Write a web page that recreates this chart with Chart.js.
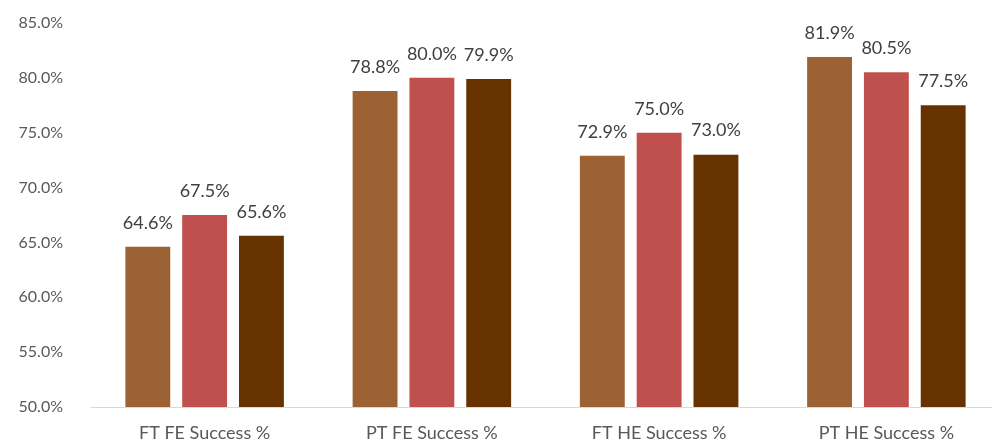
<!DOCTYPE html>
<html>
<head>
<meta charset="utf-8">
<script src="https://cdn.jsdelivr.net/npm/chart.js@4.4.1/dist/chart.umd.min.js"></script>
<style>
    html, body { margin: 0; padding: 0; background: #fff; overflow: hidden; }
    #wrap { width: 1000px; height: 446px; position: relative; }
</style>
</head>
<body>
<div id="wrap"><canvas id="barChart"></canvas></div>
<script>
// Categorias e valores (%)
const categorias = ['FT FE Success %', 'PT FE Success %', 'FT HE Success %', 'PT HE Success %'];
const serie1 = [64.6, 78.8, 72.9, 81.9];
const serie2 = [67.5, 80.0, 75.0, 80.5];
const serie3 = [65.6, 79.9, 73.0, 77.5];
const coresSeries = ['#9c6233', '#c0504d', '#663300'];

const fonte = "Lato, 'Open Sans', sans-serif";

// Plugin simples para escrever o valor acima de cada barra
const rotulosValores = {
    id: 'rotulosValores',
    afterDatasetsDraw(chart) {
        const ctx = chart.ctx;
        ctx.save();
        ctx.font = '18px ' + fonte;
        ctx.fillStyle = '#404040';
        ctx.textAlign = 'center';
        ctx.textBaseline = 'bottom';
        chart.data.datasets.forEach((ds, i) => {
            chart.getDatasetMeta(i).data.forEach((bar, j) => {
                ctx.fillText(ds.data[j].toFixed(1) + '%', bar.x, bar.y - 15);
            });
        });
        ctx.restore();
    }
};

const ctx = document.getElementById('barChart').getContext('2d');

new Chart(ctx, {
    type: 'bar',
    data: {
        labels: categorias,
        datasets: [serie1, serie2, serie3].map((valores, i) => ({
            label: 'Serie ' + (i + 1),
            data: valores,
            backgroundColor: coresSeries[i],
            borderWidth: 0,
            categoryPercentage: 0.75,
            barPercentage: 0.79
        }))
    },
    options: {
        responsive: true,
        maintainAspectRatio: false,
        animation: false,
        layout: { padding: { top: 23, left: 0, right: 0, bottom: 0 } },
        plugins: {
            legend: { display: false },
            tooltip: { enabled: false }
        },
        scales: {
            y: {
                min: 50,
                max: 85,
                ticks: {
                    stepSize: 5,
                    color: '#595959',
                    font: { family: fonte, size: 16 },
                    padding: 28,
                    callback: (v) => v.toFixed(1) + '%'
                },
                grid: { display: false, drawTicks: false },
                border: { display: false },
                afterFit: (scale) => {
                    // largura fixa e sem o espaço extra que o padding dos ticks coloca em cima/baixo
                    scale.width = 91;
                    scale.paddingTop = 0;
                    scale.paddingBottom = 0;
                }
            },
            x: {
                ticks: {
                    color: '#595959',
                    font: { family: fonte, size: 18 },
                    padding: 15
                },
                grid: { display: false, drawTicks: false },
                border: { display: true, color: '#d9d9d9', width: 1 },
                afterFit: (scale) => { scale.height = 39; }
            }
        }
    },
    plugins: [rotulosValores]
});
</script>
</body>
</html>
